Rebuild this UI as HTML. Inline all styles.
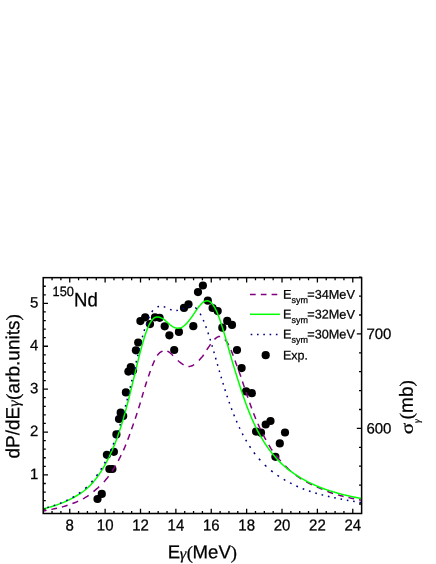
<!DOCTYPE html>
<html><head><meta charset="utf-8"><title>150Nd</title>
<style>
html,body{margin:0;padding:0;background:#fff;}
body{width:436px;height:564px;overflow:hidden;}
svg{display:block;will-change:transform;}
text{font-family:"Liberation Sans",sans-serif;fill:#000;stroke:#000;stroke-width:0.25px;}
.sym{font-family:"Liberation Serif",serif;}
.symi{font-family:"Liberation Serif",serif;font-style:italic;}
</style></head><body>
<svg width="436" height="564" viewBox="0 0 436 564">
<rect width="436" height="564" fill="#fff"/>
<defs><clipPath id="c"><rect x="43.20" y="277.66" width="318.42" height="235.84"/></clipPath></defs>

<g fill="#000">
<circle cx="97.5" cy="499" r="4.1"/>
<circle cx="101.8" cy="493.9" r="4.1"/>
<circle cx="109.4" cy="469" r="4.1"/>
<circle cx="112.4" cy="469" r="4.1"/>
<circle cx="106.9" cy="454.8" r="4.1"/>
<circle cx="113.9" cy="451.8" r="4.1"/>
<circle cx="116.4" cy="434.4" r="4.1"/>
<circle cx="119" cy="419" r="4.1"/>
<circle cx="123.2" cy="416" r="4.1"/>
<circle cx="120.7" cy="412.7" r="4.1"/>
<circle cx="125.9" cy="392.4" r="4.1"/>
<circle cx="128.4" cy="371.6" r="4.1"/>
<circle cx="130.8" cy="367" r="4.1"/>
<circle cx="133" cy="370.6" r="4.1"/>
<circle cx="135.9" cy="350.3" r="4.1"/>
<circle cx="138.2" cy="342.5" r="4.1"/>
<circle cx="140.4" cy="321.1" r="4.1"/>
<circle cx="145.2" cy="317.3" r="4.1"/>
<circle cx="150" cy="324.1" r="4.1"/>
<circle cx="155" cy="317.3" r="4.1"/>
<circle cx="159.6" cy="317.8" r="4.1"/>
<circle cx="164.7" cy="326.3" r="4.1"/>
<circle cx="169.4" cy="335.3" r="4.1"/>
<circle cx="174.2" cy="350" r="4.1"/>
<circle cx="178.9" cy="331.9" r="4.1"/>
<circle cx="184" cy="307.9" r="4.1"/>
<circle cx="188.5" cy="304.3" r="4.1"/>
<circle cx="193.3" cy="326.2" r="4.1"/>
<circle cx="198" cy="292.1" r="4.1"/>
<circle cx="202.9" cy="285.5" r="4.1"/>
<circle cx="207.8" cy="300.7" r="4.1"/>
<circle cx="212.6" cy="308" r="4.1"/>
<circle cx="217.7" cy="311.1" r="4.1"/>
<circle cx="222.3" cy="327.7" r="4.1"/>
<circle cx="227.2" cy="320.9" r="4.1"/>
<circle cx="232" cy="324.9" r="4.1"/>
<circle cx="237" cy="350" r="4.1"/>
<circle cx="241.6" cy="368.1" r="4.1"/>
<circle cx="246.1" cy="391.4" r="4.1"/>
<circle cx="251.8" cy="393.2" r="4.1"/>
<circle cx="256.1" cy="431.6" r="4.1"/>
<circle cx="261" cy="432.7" r="4.1"/>
<circle cx="265.7" cy="424.5" r="4.1"/>
<circle cx="270.5" cy="421" r="4.1"/>
<circle cx="275.4" cy="456.8" r="4.1"/>
<circle cx="279.8" cy="443.4" r="4.1"/>
<circle cx="285" cy="432.5" r="4.1"/>
</g>
<g clip-path="url(#c)" fill="none" stroke-linejoin="round">
<path d="M41.53,511.22 L43.19,510.94 L44.85,510.66 L46.52,510.36M51.35,509.43 L52.78,509.13 L54.20,508.82 L55.62,508.51 L57.05,508.18M61.89,506.99 L63.31,506.60 L64.74,506.18 L66.16,505.75 L67.59,505.29M72.42,503.57 L73.84,503.01 L75.27,502.43 L76.70,501.82 L78.12,501.19M82.96,498.82 L84.38,498.05 L85.81,497.22 L87.23,496.33 L88.66,495.36M93.49,491.58 L94.92,490.39 L96.34,489.19 L97.77,487.96 L99.19,486.67M103.91,481.94 L105.17,480.52 L106.37,479.09 L107.51,477.67 L108.60,476.24M112.02,471.41 L112.94,469.98 L113.85,468.56 L114.71,467.13 L115.56,465.71M118.24,460.87 L118.99,459.45 L119.71,458.02 L120.42,456.60 L121.13,455.17M123.45,450.34 L124.08,448.91 L124.70,447.49 L125.29,446.06 L125.87,444.64M127.74,439.80 L128.28,438.38 L128.80,436.95 L129.32,435.53 L129.83,434.10M131.53,429.27 L132.03,427.84 L132.53,426.42 L133.03,424.99 L133.54,423.57M135.23,418.73 L135.71,417.31 L136.18,415.88 L136.64,414.46 L137.10,413.03M138.64,408.20 L139.08,406.77 L139.52,405.35 L139.95,403.92 L140.37,402.50M141.81,397.66 L142.23,396.24 L142.65,394.81 L143.07,393.39 L143.49,391.96M144.95,387.13 L145.39,385.70 L145.84,384.28 L146.30,382.85 L146.76,381.43M148.39,376.59 L148.88,375.17 L149.38,373.74 L149.88,372.32 L150.40,370.89M152.21,366.06 L152.79,364.63 L153.38,363.21 L154.00,361.78 L154.64,360.36M157.21,355.52 L158.31,354.10 L159.68,352.74 L161.11,351.77 L162.53,351.13M167.37,351.03 L168.79,351.89 L170.22,353.01 L171.64,354.30 L173.07,355.68M177.90,360.45 L179.32,361.75 L180.75,362.93 L182.17,363.97 L183.60,364.86M188.43,366.48 L189.86,366.39 L191.28,366.06 L192.71,365.46 L194.13,364.62M198.93,360.46 L200.22,359.04 L201.50,357.61 L202.66,356.19 L203.68,354.76M206.74,349.93 L207.66,348.50 L208.64,347.08 L209.64,345.65 L210.63,344.23M214.44,339.39 L215.86,338.10 L217.29,337.14 L218.71,336.56 L220.14,336.42M224.90,339.46 L226.04,340.89 L227.09,342.31 L228.02,343.74 L228.81,345.16M230.99,350.00 L231.57,351.42 L232.14,352.85 L232.69,354.27 L233.23,355.70M235.00,360.53 L235.52,361.96 L236.02,363.38 L236.54,364.81 L237.06,366.23M238.86,371.07 L239.38,372.49 L239.89,373.92 L240.39,375.34 L240.87,376.77M242.47,381.60 L242.94,383.03 L243.42,384.45 L243.89,385.88 L244.36,387.30M245.99,392.14 L246.47,393.56 L246.96,394.99 L247.44,396.41 L247.94,397.84M249.63,402.67 L250.14,404.10 L250.65,405.52 L251.17,406.95 L251.70,408.37M253.53,413.21 L254.08,414.63 L254.65,416.06 L255.22,417.48 L255.80,418.91M257.87,423.74 L258.50,425.17 L259.15,426.59 L259.81,428.02 L260.49,429.44M262.89,434.28 L263.64,435.70 L264.40,437.13 L265.18,438.55 L265.98,439.98M268.72,444.81 L269.55,446.24 L270.41,447.66 L271.31,449.09 L272.27,450.51M275.87,455.35 L277.02,456.77 L278.22,458.20 L279.46,459.62 L280.73,461.05M285.25,465.88 L286.66,467.30 L288.09,468.68 L289.51,469.99 L290.94,471.24M295.77,475.09 L297.20,476.13 L298.62,477.13 L300.05,478.09 L301.47,479.01M306.31,481.86 L307.73,482.63 L309.16,483.38 L310.58,484.10 L312.01,484.79M316.84,486.98 L318.27,487.58 L319.69,488.17 L321.12,488.74 L322.54,489.30M327.38,491.31 L328.80,491.94 L330.23,492.52 L331.65,493.00 L333.08,493.46M337.91,494.90 L339.34,495.29 L340.76,495.68 L342.19,496.05 L343.61,496.41M348.45,497.55 L349.87,497.86 L351.30,498.16 L352.72,498.46 L354.15,498.75M358.98,499.67 L360.54,499.95 L362.11,500.22 L363.67,500.49" stroke="#800080" stroke-width="1.5"/>
<path d="M41.53,509.24 L42.18,509.09 L42.82,508.94 L43.47,508.78 L44.11,508.63 L44.76,508.47 L45.40,508.31 L46.05,508.14 L46.69,507.98 L47.34,507.81 L47.99,507.63 L48.63,507.46 L49.28,507.28 L49.92,507.10 L50.57,506.91 L51.21,506.72 L51.86,506.53 L52.50,506.33 L53.15,506.13 L53.80,505.93 L54.44,505.72 L55.09,505.51 L55.73,505.30 L56.38,505.08 L57.02,504.85 L57.67,504.63 L58.31,504.40 L58.96,504.16 L59.61,503.92 L60.25,503.67 L60.90,503.42 L61.54,503.17 L62.19,502.91 L62.83,502.65 L63.48,502.39 L64.12,502.11 L64.77,501.84 L65.42,501.56 L66.06,501.27 L66.71,500.98 L67.35,500.69 L68.00,500.38 L68.64,500.08 L69.29,499.76 L69.94,499.44 L70.58,499.12 L71.23,498.79 L71.87,498.45 L72.52,498.10 L73.16,497.75 L73.81,497.39 L74.45,497.02 L75.10,496.65 L75.75,496.27 L76.39,495.88 L77.04,495.49 L77.68,495.10 L78.33,494.71 L78.97,494.31 L79.62,493.91 L80.26,493.50 L80.91,493.08 L81.56,492.65 L82.20,492.20 L82.85,491.74 L83.49,491.26 L84.14,490.76 L84.78,490.24 L85.43,489.71 L86.07,489.17 L86.72,488.62 L87.37,488.05 L88.01,487.47 L88.66,486.86 L89.30,486.25 L89.95,485.61 L90.59,484.96 L91.24,484.29 L91.88,483.60 L92.53,482.88 L93.18,482.15 L93.82,481.39 L94.47,480.62 L95.11,479.82 L95.76,479.00 L96.40,478.16 L97.05,477.30 L97.69,476.41 L98.34,475.51 L98.99,474.59 L99.63,473.64 L100.28,472.67 L100.92,471.68 L101.57,470.66 L102.21,469.62 L102.86,468.55 L103.50,467.45 L104.15,466.33 L104.80,465.18 L105.44,464.01 L106.09,462.81 L106.73,461.58 L107.38,460.33 L108.02,459.05 L108.67,457.74 L109.31,456.42 L109.96,455.07 L110.61,453.70 L111.25,452.29 L111.90,450.86 L112.54,449.39 L113.19,447.88 L113.83,446.34 L114.48,444.75 L115.13,443.12 L115.77,441.44 L116.42,439.73 L117.06,437.98 L117.71,436.19 L118.35,434.35 L119.00,432.48 L119.64,430.55 L120.29,428.58 L120.94,426.57 L121.58,424.51 L122.23,422.40 L122.87,420.25 L123.52,418.05 L124.16,415.81 L124.81,413.52 L125.45,411.20 L126.10,408.83 L126.75,406.42 L127.39,403.98 L128.04,401.50 L128.68,398.99 L129.33,396.45 L129.97,393.88 L130.62,391.28 L131.26,388.66 L131.91,386.02 L132.56,383.36 L133.20,380.68 L133.85,378.00 L134.49,375.31 L135.14,372.62 L135.78,369.93 L136.43,367.26 L137.07,364.60 L137.72,361.96 L138.37,359.35 L139.01,356.78 L139.66,354.25 L140.30,351.77 L140.95,349.34 L141.59,346.95 L142.24,344.63 L142.88,342.38 L143.53,340.19 L144.18,338.09 L144.82,336.05 L145.47,334.10 L146.11,332.24 L146.76,330.47 L147.40,328.80 L148.05,327.24 L148.69,325.79 L149.34,324.45 L149.99,323.22 L150.63,322.10 L151.28,321.10 L151.92,320.20 L152.57,319.42 L153.21,318.74 L153.86,318.18 L154.50,317.74 L155.15,317.40 L155.80,317.16 L156.44,317.01 L157.09,316.95 L157.73,316.97 L158.38,317.04 L159.02,317.17 L159.67,317.34 L160.32,317.56 L160.96,317.84 L161.61,318.13 L162.25,318.42 L162.90,318.74 L163.54,319.15 L164.19,319.64 L164.83,320.18 L165.48,320.73 L166.13,321.31 L166.77,321.89 L167.42,322.48 L168.06,323.06 L168.71,323.64 L169.35,324.19 L170.00,324.73 L170.64,325.23 L171.29,325.70 L171.94,326.14 L172.58,326.54 L173.23,326.90 L173.87,327.22 L174.52,327.50 L175.16,327.73 L175.81,327.92 L176.45,328.06 L177.10,328.16 L177.75,328.21 L178.39,328.22 L179.04,328.17 L179.68,328.06 L180.33,327.90 L180.97,327.68 L181.62,327.40 L182.26,327.06 L182.91,326.67 L183.56,326.22 L184.20,325.72 L184.85,325.16 L185.49,324.56 L186.14,323.90 L186.78,323.20 L187.43,322.46 L188.07,321.70 L188.72,320.93 L189.37,320.13 L190.01,319.32 L190.66,318.47 L191.30,317.60 L191.95,316.69 L192.59,315.75 L193.24,314.80 L193.88,313.84 L194.53,312.88 L195.18,311.92 L195.82,310.96 L196.47,310.01 L197.11,309.08 L197.76,308.18 L198.40,307.30 L199.05,306.45 L199.69,305.65 L200.34,304.88 L200.99,304.17 L201.63,303.52 L202.28,302.93 L202.92,302.40 L203.57,301.95 L204.21,301.56 L204.86,301.26 L205.51,301.04 L206.15,300.90 L206.80,300.83 L207.44,300.83 L208.09,300.90 L208.73,301.07 L209.38,301.35 L210.02,301.74 L210.67,302.25 L211.32,302.86 L211.96,303.56 L212.61,304.37 L213.25,305.28 L213.90,306.26 L214.54,307.33 L215.19,308.49 L215.83,309.74 L216.48,311.08 L217.13,312.53 L217.77,314.07 L218.42,315.73 L219.06,317.48 L219.71,319.32 L220.35,321.21 L221.00,323.14 L221.64,325.11 L222.29,327.13 L222.94,329.19 L223.58,331.29 L224.23,333.43 L224.87,335.60 L225.52,337.80 L226.16,340.02 L226.81,342.26 L227.45,344.51 L228.10,346.77 L228.75,349.04 L229.39,351.31 L230.04,353.58 L230.68,355.84 L231.33,358.10 L231.97,360.33 L232.62,362.53 L233.26,364.71 L233.91,366.87 L234.56,369.01 L235.20,371.12 L235.85,373.21 L236.49,375.28 L237.14,377.34 L237.78,379.38 L238.43,381.41 L239.07,383.43 L239.72,385.43 L240.37,387.43 L241.01,389.42 L241.66,391.38 L242.30,393.32 L242.95,395.24 L243.59,397.13 L244.24,399.00 L244.88,400.84 L245.53,402.65 L246.18,404.43 L246.82,406.18 L247.47,407.89 L248.11,409.58 L248.76,411.22 L249.40,412.83 L250.05,414.41 L250.70,415.95 L251.34,417.46 L251.99,418.94 L252.63,420.40 L253.28,421.82 L253.92,423.22 L254.57,424.60 L255.21,425.95 L255.86,427.27 L256.51,428.57 L257.15,429.84 L257.80,431.09 L258.44,432.31 L259.09,433.51 L259.73,434.69 L260.38,435.84 L261.02,436.97 L261.67,438.08 L262.32,439.17 L262.96,440.24 L263.61,441.29 L264.25,442.32 L264.90,443.32 L265.54,444.31 L266.19,445.28 L266.83,446.23 L267.48,447.17 L268.13,448.08 L268.77,448.98 L269.42,449.86 L270.06,450.72 L270.71,451.57 L271.35,452.40 L272.00,453.22 L272.64,454.01 L273.29,454.80 L273.94,455.57 L274.58,456.33 L275.23,457.07 L275.87,457.79 L276.52,458.51 L277.16,459.21 L277.81,459.90 L278.45,460.57 L279.10,461.24 L279.75,461.89 L280.39,462.53 L281.04,463.16 L281.68,463.77 L282.33,464.38 L282.97,464.97 L283.62,465.55 L284.26,466.12 L284.91,466.68 L285.56,467.23 L286.20,467.77 L286.85,468.30 L287.49,468.82 L288.14,469.33 L288.78,469.83 L289.43,470.32 L290.07,470.81 L290.72,471.29 L291.37,471.76 L292.01,472.22 L292.66,472.68 L293.30,473.12 L293.95,473.57 L294.59,474.00 L295.24,474.43 L295.89,474.86 L296.53,475.28 L297.18,475.69 L297.82,476.10 L298.47,476.50 L299.11,476.90 L299.76,477.29 L300.40,477.68 L301.05,478.07 L301.70,478.44 L302.34,478.82 L302.99,479.19 L303.63,479.55 L304.28,479.91 L304.92,480.27 L305.57,480.62 L306.21,480.97 L306.86,481.31 L307.51,481.64 L308.15,481.98 L308.80,482.30 L309.44,482.63 L310.09,482.95 L310.73,483.26 L311.38,483.57 L312.02,483.88 L312.67,484.18 L313.32,484.48 L313.96,484.78 L314.61,485.07 L315.25,485.35 L315.90,485.63 L316.54,485.91 L317.19,486.19 L317.83,486.46 L318.48,486.72 L319.13,486.99 L319.77,487.24 L320.42,487.50 L321.06,487.75 L321.71,488.00 L322.35,488.24 L323.00,488.48 L323.64,488.71 L324.29,488.94 L324.94,489.17 L325.58,489.40 L326.23,489.62 L326.87,489.84 L327.52,490.06 L328.16,490.27 L328.81,490.48 L329.45,490.69 L330.10,490.90 L330.75,491.10 L331.39,491.30 L332.04,491.50 L332.68,491.70 L333.33,491.89 L333.97,492.08 L334.62,492.27 L335.26,492.46 L335.91,492.65 L336.56,492.83 L337.20,493.01 L337.85,493.19 L338.49,493.36 L339.14,493.54 L339.78,493.71 L340.43,493.88 L341.08,494.05 L341.72,494.22 L342.37,494.38 L343.01,494.54 L343.66,494.70 L344.30,494.86 L344.95,495.02 L345.59,495.18 L346.24,495.33 L346.89,495.48 L347.53,495.63 L348.18,495.78 L348.82,495.93 L349.47,496.07 L350.11,496.22 L350.76,496.36 L351.40,496.50 L352.05,496.64 L352.70,496.78 L353.34,496.91 L353.99,497.05 L354.63,497.18 L355.28,497.31 L355.92,497.45 L356.57,497.57 L357.21,497.70 L357.86,497.83 L358.51,497.95 L359.15,498.08 L359.80,498.20 L360.44,498.32 L361.09,498.44 L361.73,498.56 L362.38,498.68 L363.02,498.80 L363.67,498.91" stroke="#00ff00" stroke-width="1.5"/>
<path d="M41.53,509.08 L42.59,508.82M47.30,507.56 L48.90,507.10M53.61,505.64 L55.21,505.09M59.92,503.35 L61.52,502.71M66.22,500.69 L67.82,499.94M72.53,497.50 L74.13,496.57M78.84,493.48 L80.44,492.31M85.15,488.45 L86.75,486.99M91.29,482.33 L92.69,480.73M96.43,476.02 L97.59,474.42M100.73,469.71 L101.73,468.11M104.44,463.40 L105.30,461.80M107.70,457.10 L108.46,455.50M110.60,450.79 L111.29,449.19M113.22,444.48 L113.85,442.88M115.61,438.17 L116.18,436.57M117.81,431.87 L118.35,430.27M119.86,425.56 L120.35,423.96M121.77,419.25 L122.24,417.65M123.59,412.94 L124.03,411.34M125.31,406.64 L125.74,405.04M126.97,400.33 L127.38,398.73M128.56,394.02 L128.96,392.42M130.11,387.71 L130.50,386.11M131.62,381.41 L132.00,379.81M133.12,375.10 L133.49,373.50M134.59,368.79 L134.97,367.19M136.07,362.48 L136.45,360.88M137.56,356.18 L137.95,354.58M139.09,349.87 L139.48,348.27M140.67,343.56 L141.08,341.96M142.33,337.25 L142.77,335.65M144.13,330.95 L144.65,329.35M146.28,324.64 L146.84,323.04M148.58,318.33 L149.26,316.73M151.76,312.02 L152.88,310.42M157.42,306.83 L159.02,306.45M163.72,306.62 L165.32,307.17M170.03,309.38 L171.63,309.95M176.34,310.57 L177.94,310.37M182.65,308.82 L184.25,308.11M188.95,306.34 L190.55,306.10M195.26,307.51 L196.82,308.96M200.11,313.66 L201.00,315.26M203.25,319.97 L203.92,321.57M205.76,326.28 L206.34,327.88M207.96,332.59 L208.49,334.19M209.98,338.89 L210.48,340.49M211.90,345.20 L212.37,346.80M213.75,351.51 L214.21,353.11M215.56,357.82 L216.02,359.42M217.36,364.12 L217.82,365.72M219.18,370.43 L219.64,372.03M221.02,376.74 L221.50,378.34M222.92,383.05 L223.41,384.65M224.88,389.35 L225.39,390.95M226.92,395.66 L227.46,397.26M229.07,401.97 L229.63,403.57M231.34,408.28 L231.94,409.88M233.76,414.58 L234.40,416.18M236.36,420.89 L237.06,422.49M239.19,427.20 L239.95,428.80M242.28,433.51 L243.12,435.11M245.70,439.81 L246.63,441.41M249.52,446.12 L250.57,447.72M253.86,452.43 L255.06,454.03M258.88,458.74 L260.30,460.34M264.82,465.03 L266.42,466.55M271.12,470.65 L272.72,471.93M277.43,475.39 L279.03,476.47M283.74,479.41 L285.34,480.34M290.05,482.86 L291.65,483.66M296.35,485.97 L297.95,486.72M302.66,488.71 L304.26,489.31M308.97,490.97 L310.57,491.49M315.28,492.95 L316.88,493.42M321.58,494.71 L323.18,495.12M327.89,496.28 L329.49,496.66M334.20,497.70 L335.80,498.04M340.51,498.99 L342.11,499.30M346.81,500.16 L348.41,500.43M353.12,501.22 L354.72,501.48M359.43,502.20 L361.03,502.44" stroke="#000080" stroke-width="1.5"/>
</g>
<rect x="43.20" y="277.66" width="318.42" height="235.84" fill="none" stroke="#000" stroke-width="1.5"/>
<path d="M52.05,513.50v-2.6M52.05,277.66v2.6M60.89,513.50v-2.6M60.89,277.66v2.6M69.74,513.50v-4.8M69.74,277.66v4.8M78.58,513.50v-2.6M78.58,277.66v2.6M87.43,513.50v-2.6M87.43,277.66v2.6M96.27,513.50v-2.6M96.27,277.66v2.6M105.12,513.50v-4.8M105.12,277.66v4.8M113.96,513.50v-2.6M113.96,277.66v2.6M122.81,513.50v-2.6M122.81,277.66v2.6M131.65,513.50v-2.6M131.65,277.66v2.6M140.50,513.50v-4.8M140.50,277.66v4.8M149.34,513.50v-2.6M149.34,277.66v2.6M158.19,513.50v-2.6M158.19,277.66v2.6M167.03,513.50v-2.6M167.03,277.66v2.6M175.88,513.50v-4.8M175.88,277.66v4.8M184.72,513.50v-2.6M184.72,277.66v2.6M193.56,513.50v-2.6M193.56,277.66v2.6M202.41,513.50v-2.6M202.41,277.66v2.6M211.25,513.50v-4.8M211.25,277.66v4.8M220.10,513.50v-2.6M220.10,277.66v2.6M228.94,513.50v-2.6M228.94,277.66v2.6M237.79,513.50v-2.6M237.79,277.66v2.6M246.63,513.50v-4.8M246.63,277.66v4.8M255.48,513.50v-2.6M255.48,277.66v2.6M264.33,513.50v-2.6M264.33,277.66v2.6M273.17,513.50v-2.6M273.17,277.66v2.6M282.02,513.50v-4.8M282.02,277.66v4.8M290.86,513.50v-2.6M290.86,277.66v2.6M299.70,513.50v-2.6M299.70,277.66v2.6M308.55,513.50v-2.6M308.55,277.66v2.6M317.39,513.50v-4.8M317.39,277.66v4.8M326.24,513.50v-2.6M326.24,277.66v2.6M335.09,513.50v-2.6M335.09,277.66v2.6M343.93,513.50v-2.6M343.93,277.66v2.6M352.78,513.50v-4.8M352.78,277.66v4.8M43.20,509.21h2.6M43.20,500.64h2.6M43.20,492.06h2.6M43.20,483.48h2.6M43.20,474.91h4.8M43.20,466.33h2.6M43.20,457.76h2.6M43.20,449.18h2.6M43.20,440.60h2.6M43.20,432.03h4.8M43.20,423.45h2.6M43.20,414.88h2.6M43.20,406.30h2.6M43.20,397.72h2.6M43.20,389.15h4.8M43.20,380.57h2.6M43.20,372.00h2.6M43.20,363.42h2.6M43.20,354.84h2.6M43.20,346.27h4.8M43.20,337.69h2.6M43.20,329.12h2.6M43.20,320.54h2.6M43.20,311.96h2.6M43.20,303.39h4.8M43.20,294.81h2.6M43.20,286.24h2.6M361.62,504.00h-2.6M361.62,485.10h-2.6M361.62,466.20h-2.6M361.62,447.30h-2.6M361.62,428.40h-4.8M361.62,409.50h-2.6M361.62,390.60h-2.6M361.62,371.70h-2.6M361.62,352.80h-2.6M361.62,333.90h-4.8M361.62,315.00h-2.6M361.62,296.10h-2.6M361.62,277.20h-2.6" stroke="#000" stroke-width="1.3" fill="none"/>
<text transform="translate(69.74,530.50) rotate(0.03) scale(1,1.06)" font-size="15px" text-anchor="middle">8</text>
<text transform="translate(105.12,530.50) rotate(0.03) scale(1,1.06)" font-size="15px" text-anchor="middle">10</text>
<text transform="translate(140.50,530.50) rotate(0.03) scale(1,1.06)" font-size="15px" text-anchor="middle">12</text>
<text transform="translate(175.88,530.50) rotate(0.03) scale(1,1.06)" font-size="15px" text-anchor="middle">14</text>
<text transform="translate(211.25,530.50) rotate(0.03) scale(1,1.06)" font-size="15px" text-anchor="middle">16</text>
<text transform="translate(246.63,530.50) rotate(0.03) scale(1,1.06)" font-size="15px" text-anchor="middle">18</text>
<text transform="translate(282.02,530.50) rotate(0.03) scale(1,1.06)" font-size="15px" text-anchor="middle">20</text>
<text transform="translate(317.39,530.50) rotate(0.03) scale(1,1.06)" font-size="15px" text-anchor="middle">22</text>
<text transform="translate(352.78,530.50) rotate(0.03) scale(1,1.06)" font-size="15px" text-anchor="middle">24</text>
<text transform="translate(38.30,478.91) rotate(0.03) scale(1,1.0)" font-size="15px" text-anchor="end">1</text>
<text transform="translate(38.30,436.03) rotate(0.03) scale(1,1.0)" font-size="15px" text-anchor="end">2</text>
<text transform="translate(38.30,393.15) rotate(0.03) scale(1,1.0)" font-size="15px" text-anchor="end">3</text>
<text transform="translate(38.30,350.27) rotate(0.03) scale(1,1.0)" font-size="15px" text-anchor="end">4</text>
<text transform="translate(38.30,307.39) rotate(0.03) scale(1,1.0)" font-size="15px" text-anchor="end">5</text>
<text transform="translate(366.40,433.40) rotate(0.03) scale(1,1.0)" font-size="15px" text-anchor="start">600</text>
<text transform="translate(366.40,338.90) rotate(0.03) scale(1,1.0)" font-size="15px" text-anchor="start">700</text>
<text transform="translate(167.7,558.2) rotate(0.03)" font-size="18.6px">E<tspan class="symi" font-size="16.5px" dx="-0.3" dy="0.7">γ</tspan><tspan class="sym" dx="0.5">(</tspan><tspan dx="-0.4" dy="-0.7">MeV</tspan><tspan class="sym" dy="0.5">)</tspan></text>
<text transform="translate(19.3,458.6) rotate(-90.03)" font-size="19px">dP/dE<tspan class="symi" font-size="16.5px">γ</tspan><tspan class="sym" dx="0.6">(</tspan>arb.units<tspan class="sym">)</tspan></text>
<text class="sym" transform="translate(412.7,434.2) rotate(-90.03) scale(1.22,1)" font-size="17.5px">σ</text>
<text class="symi" transform="translate(420.0,422.9) rotate(-90.03)" font-size="9.5px">γ</text>
<text transform="translate(412.8,419.8) rotate(-90.03) scale(1,1.0)" font-size="19px"><tspan class="sym" dx="0.6">(</tspan>mb<tspan class="sym">)</tspan></text>
<text transform="translate(52.6,295.9) rotate(0.03) scale(1,1.05)" font-size="12.8px">150</text>
<text transform="translate(73.95,306.2) rotate(0.03) scale(1,1.04)" font-size="18.6px">Nd</text>
<path d="M250,294.4H279" stroke="#800080" stroke-width="1.5" stroke-dasharray="5.7,5.1" fill="none"/>
<path d="M250,314.3H279.9" stroke="#00ff00" stroke-width="1.5" fill="none"/>
<path d="M250.7,334.5H279" stroke="#000080" stroke-width="1.5" stroke-dasharray="1.6,4.7" fill="none"/>
<circle cx="265.7" cy="355.2" r="4.1" fill="#000"/>
<text transform="translate(283,298.8) rotate(0.03)" font-size="12.7px">E<tspan font-size="9px" dy="4.3">sym</tspan><tspan dy="-4.3" dx="-0.7">=34MeV</tspan></text>
<text transform="translate(283,318.6) rotate(0.03)" font-size="12.7px">E<tspan font-size="9px" dy="4.3">sym</tspan><tspan dy="-4.3" dx="-0.7">=32MeV</tspan></text>
<text transform="translate(283,338.5) rotate(0.03)" font-size="12.7px">E<tspan font-size="9px" dy="4.3">sym</tspan><tspan dy="-4.3" dx="-0.7">=30MeV</tspan></text>
<text transform="translate(283,359.5) rotate(0.03)" font-size="12.5px">Exp.</text>
</svg></body></html>
